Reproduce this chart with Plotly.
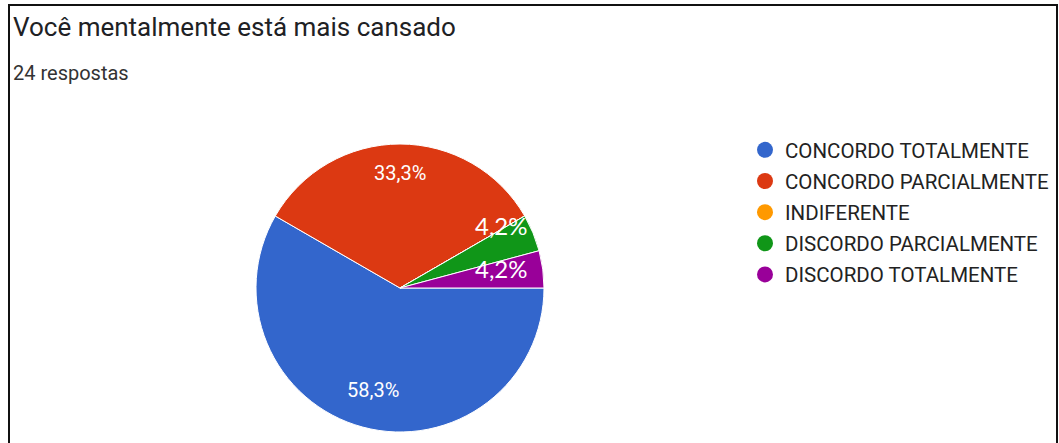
import math
import plotly.graph_objects as go

categories = ["CONCORDO TOTALMENTE", "CONCORDO PARCIALMENTE", "INDIFERENTE",
              "DISCORDO PARCIALMENTE", "DISCORDO TOTALMENTE"]
counts = [14, 8, 0, 1, 1]
pct_labels = ["58,3%", "33,3%", "", "4,2%", "4,2%"]
colors = ["#3366CC", "#DC3912", "#FF9900", "#109618", "#990099"]
title_text = "Você mentalmente está mais cansado"
subtitle_text = "24 respostas"

W, H = 1059, 443
cx, cy, R = 400, 288, 144

def px(x):
    return x / W

def py(y):
    return 1 - y / H

fig = go.Figure()
fig.add_trace(go.Pie(
    labels=categories, values=counts, sort=False, direction="clockwise",
    rotation=90, marker=dict(colors=colors, line=dict(color="white", width=1)),
    textinfo="none", showlegend=False, hoverinfo="label+percent",
    domain=dict(x=[px(cx - R), px(cx + R)], y=[py(cy + R), py(cy - R)]),
))

for name, col in zip(categories, colors):
    fig.add_trace(go.Scatter(
        x=[None], y=[None], mode="markers", name=name, legendgroup=name,
        marker=dict(color=col, size=16, symbol="circle"), showlegend=True,
    ))

# slice labels placed from cumulative angles (label placement style per slice)
total = sum(counts)
radial = [0.73, 0.80, 0.80, 0.83, 0.72]
angle_shift = [0, 0, 0, -9, -3.6]
fonts = [dict(family="Roboto", size=20, color="white")] * 2 + \
        [dict(family="Lato", size=24, color="white")] * 3
annotations = []
start = 90.0
for i, v in enumerate(counts):
    span = 360.0 * v / total
    mid = start + span / 2 + angle_shift[i]
    start += span
    if not pct_labels[i]:
        continue
    r = R * radial[i]
    x = cx + r * math.sin(math.radians(mid))
    y = cy - r * math.cos(math.radians(mid))
    annotations.append(dict(x=px(x), y=py(y), xref="paper", yref="paper",
                            text=pct_labels[i], showarrow=False,
                            font=fonts[i], xanchor="center", yanchor="middle"))

annotations.append(dict(x=px(11), y=py(27), xref="paper", yref="paper",
                        text=title_text, showarrow=False, xanchor="left",
                        yanchor="middle",
                        font=dict(family="Roboto", size=26, color="#202124")))
annotations.append(dict(x=px(11), y=py(73), xref="paper", yref="paper",
                        text=subtitle_text, showarrow=False, xanchor="left",
                        yanchor="middle",
                        font=dict(family="Roboto", size=20, color="#333333")))

fig.update_layout(
    width=W, height=H, margin=dict(l=0, r=0, t=0, b=0),
    paper_bgcolor="white", plot_bgcolor="white",
    xaxis=dict(visible=False), yaxis=dict(visible=False),
    annotations=annotations,
    legend=dict(x=px(745), y=py(130), xanchor="left", yanchor="top",
                font=dict(family="Roboto", size=20.5, color="#222222"),
                tracegroupgap=1.5, bgcolor="rgba(0,0,0,0)"),
    shapes=[dict(type="path", xref="paper", yref="paper",
                 path=f"M {px(9)},{py(450)} L {px(9)},{py(5)} L {px(1057)},{py(5)} L {px(1057)},{py(450)}",
                 line=dict(color="#111111", width=2))],
)

fig.write_html("out.html", config={"displayModeBar": False})
